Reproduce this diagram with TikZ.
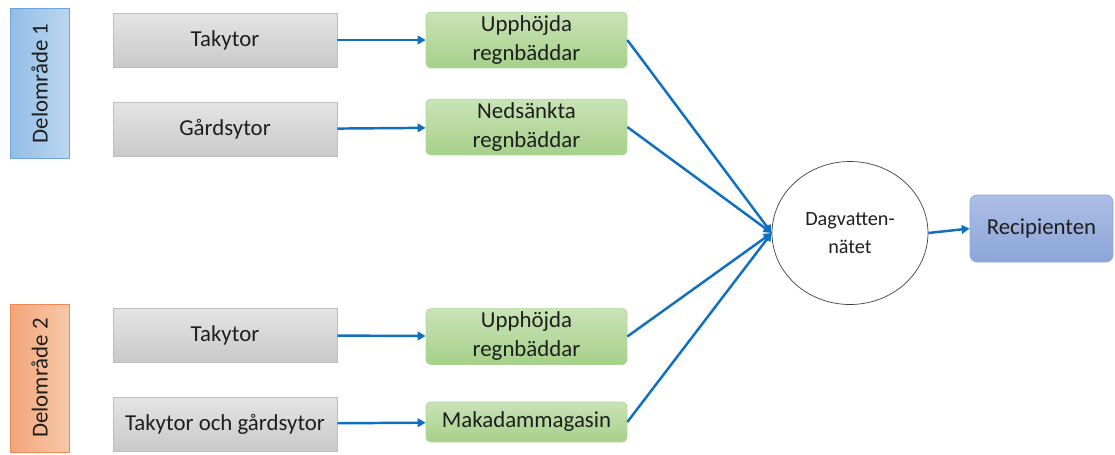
\documentclass[tikz,border=0pt]{standalone}
\usepackage{fontspec}
\setmainfont{Carlito}
\usepackage{xcolor}
\usepackage{tikz}
\usetikzlibrary{arrows.meta,shapes.geometric}
\definecolor{pipeB}{HTML}{0F6FC0}
\definecolor{grayT}{HTML}{E4E4E4}
\definecolor{grayB}{HTML}{C9C9C9}
\definecolor{grayL}{HTML}{BDBDBD}
\definecolor{greenT}{HTML}{C9E3B6}
\definecolor{greenB}{HTML}{A6D08A}
\definecolor{greenL}{HTML}{8CC46A}
\definecolor{blueT}{HTML}{BCD6EF}
\definecolor{blueB}{HTML}{93BDE6}
\definecolor{blueL}{HTML}{6FA3D8}
\definecolor{oraT}{HTML}{F8C9A8}
\definecolor{oraB}{HTML}{F2A47A}
\definecolor{oraL}{HTML}{EB8A55}
\definecolor{recT}{HTML}{AEBFE6}
\definecolor{recB}{HTML}{8CA4D8}
\definecolor{recL}{HTML}{6F8FD0}
\definecolor{inkT}{HTML}{1E1E1E}
\tikzset{
  boxtxt/.style={font=\fontsize{13}{16.5}\selectfont, text=inkT, align=center, inner sep=2pt},
  areabox/.style={boxtxt, rotate=90, minimum width=3.0cm, minimum height=1.18cm, thin},
  area1/.style={areabox, draw=blueL, left color=blueB, right color=blueT},
  area2/.style={areabox, draw=oraL, left color=oraB, right color=oraT},
  surfbox/.style={boxtxt, draw=grayL, top color=grayT, bottom color=grayB,
                  minimum width=4.48cm, minimum height=1.08cm, thin},
  bedbox/.style={boxtxt, draw=greenL!70, top color=greenT, bottom color=greenB,
                 rounded corners=2.5pt, minimum width=4.02cm, minimum height=0.96cm, thin},
  netnode/.style={ellipse, draw=black!75, fill=white, thin,
                  minimum width=3.12cm, minimum height=2.86cm,
                  font=\fontsize{11.5}{16}\selectfont, text=inkT, align=center},
  recbox/.style={boxtxt, draw=recL!80, top color=recT, bottom color=recB,
                 rounded corners=4pt, minimum width=2.86cm, minimum height=1.34cm, thin},
  pipe/.style={-{Triangle[length=1.6mm, width=1.7mm]}, line width=1.4pt, color=pipeB},
}
\begin{document}
\begin{tikzpicture}[x=0.02cm, y=-0.02cm]
  \useasboundingbox (0,0) rectangle (1115,454);
  % subareas
  \node[area1] (omr1) at (39.5,83.5) {Delområde 1};
  \node[area2, minimum width=2.96cm] (omr2) at (39.5,378) {Delområde 2};
  % surfaces
  \node[surfbox] (tak1) at (225,40) {Takytor};
  \node[surfbox] (gard) at (225,129.5) {Gårdsytor};
  \node[surfbox] (tak2) at (225,335) {Takytor};
  \node[surfbox] (takgard) at (225,424) {Takytor och gårdsytor};
  % treatment
  \node[bedbox] (upp1) at (526.5,40) {Upphöjda\\regnbäddar};
  \node[bedbox] (ned) at (526.5,127) {Nedsänkta\\regnbäddar};
  \node[bedbox] (upp2) at (526.5,336.5) {Upphöjda\\regnbäddar};
  \node[bedbox, minimum height=0.8cm] (maka) at (526.5,422) {Makadammagasin};
  % network and recipient
  \node[netnode] (dag) at (850,233) {Dagvatten-\\nätet};
  \node[recbox] (rec) at (1041.5,228.5) {Recipienten};
  % edges
  \draw[pipe] (tak1) -- (upp1);
  \draw[pipe] (gard) -- (ned);
  \draw[pipe] (tak2) -- (upp2);
  \draw[pipe] (takgard) -- (maka);
  \draw[pipe] (upp1.east) -- (dag.west);
  \draw[pipe] (ned.east) -- (dag.west);
  \draw[pipe] (upp2.east) -- (dag.west);
  \draw[pipe] (maka.east) -- (dag.west);
  \draw[pipe] (dag.east) -- (rec.west);
\end{tikzpicture}
\end{document}
